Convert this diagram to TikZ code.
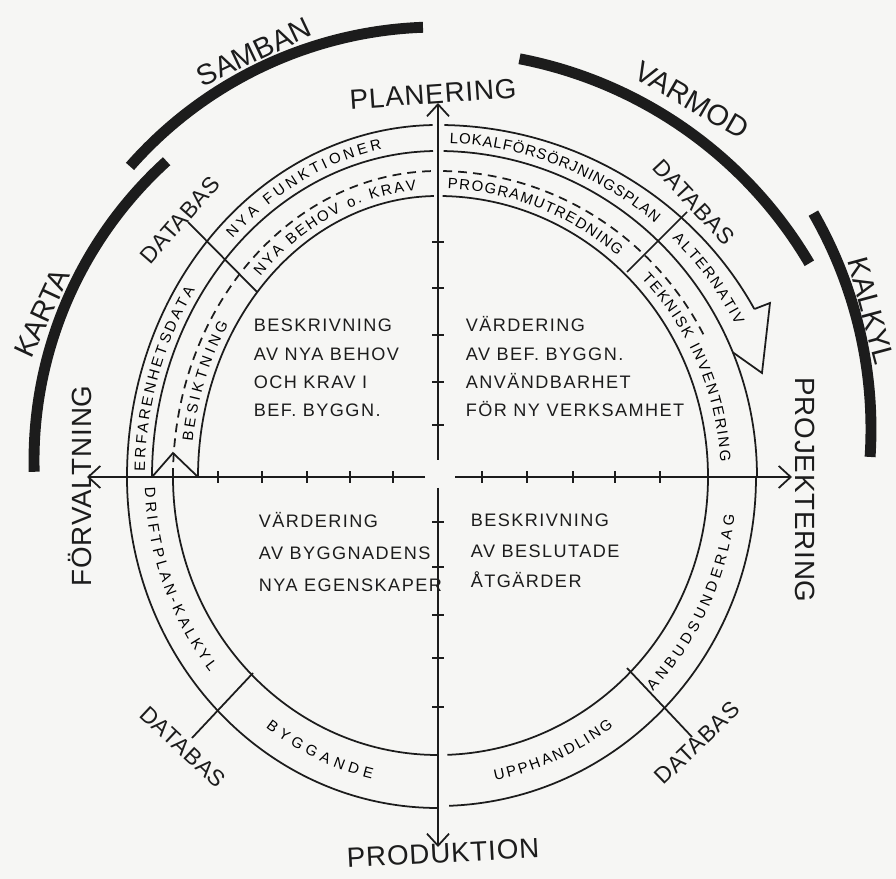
\documentclass[tikz,border=0pt]{standalone}
\usepackage{fontspec}
\setmainfont{Liberation Sans}
\newfontfamily\quadfont[LetterSpace=8]{Liberation Sans}
\newfontfamily\wayfont[LetterSpace=3]{Liberation Sans}
\usetikzlibrary{arrows.meta, decorations.text}
\definecolor{ink}{HTML}{1C1C1C}
\definecolor{paper}{HTML}{F6F6F4}
\tikzset{
  every picture/.style={line width=1pt, color=ink},
  band/.style={line width=1pt},
  dashband/.style={line width=1pt, dash pattern=on 5pt off 3.5pt},
  bigarc/.style={line width=6.2pt},
  axisline/.style={line width=1pt, -{Straight Barb[length=2.4mm, width=4.4mm]}},
  tickmark/.style={line width=1pt},
  quad/.style={font=\quadfont\fontsize{10.3}{12}\selectfont, inner sep=0pt, anchor=base west},
  way/.style={font=\wayfont\fontsize{15.8}{18}\selectfont, inner sep=0pt},
  ring/.style={font=\fontsize{16.5}{18}\selectfont, inner sep=0pt},
  dblabel/.style={font=\wayfont\fontsize{13}{15}\selectfont, inner sep=0pt},
}
% text set along an elliptic arc: rx, ry, start angle, end angle, text
\newcommand{\bandtext}[5]{%
  \path[decorate, decoration={text along path, text align={fit to path}, raise=-3pt,
      text={|\fontsize{8.5}{10}\selectfont|#5}}]
    ({#1*cos(#3)},{#2*sin(#3)}) arc[start angle=#3, end angle=#4, x radius=#1, y radius=#2];
}

\begin{document}
\begin{tikzpicture}[x=0.2mm, y=0.2mm]
  \useasboundingbox[fill=paper] (-438,-402) rectangle (458,477);

  % upper rings, left and right quarter
  \foreach \rx/\ry/\s in {311/352/band, 286/326/band, 265/306/dashband, 240/281/band}
    \draw[\s] (-\rx,0) arc[start angle=180, end angle=91, x radius=\rx, y radius=\ry];
  \foreach \rx/\ry/\e/\s in {360/352/28.5/band, 319/326/0/band, 300/306/27.6/dashband, 270/281/0/band}
    \draw[\s] ({\rx*cos(89)},{\ry*sin(89)}) arc[start angle=89, end angle=\e, x radius=\rx, y radius=\ry];
  % lower rings
  \foreach \rx/\ry in {311/331, 265/278}
    \draw[band] (-\rx,0) arc[start angle=180, end angle=270, x radius=\rx, y radius=\ry];
  \foreach \rx/\ry in {318/329, 270/278}
    \draw[band] ({\rx*cos(272)},{\ry*sin(272)}) arc[start angle=272, end angle=360, x radius=\rx, y radius=\ry];

  % arrow head of the outer ring, small peak at the left
  \draw[band, line join=miter] ({360*cos(28.5)},{352*sin(28.5)}) -- (332,174) -- (324,104)
    -- ({319*cos(22.5)},{326*sin(22.5)});
  \draw[band] (-286,0) -- (-265,24) -- (-240,0);

  % database dividers
  \draw[band] (-250,255) -- (-181,185);
  \draw[band] (249,265) -- (189,205);
  \draw[band] (-246,-261) -- (-185,-196);
  \draw[band] (254,-260) -- (189,-191);

  % axes
  \draw[axisline] (-13,0) -- (-351,0);
  \draw[axisline] (17,0) -- (354,0);
  \draw[axisline] (0,17) -- (0,374);
  \draw[axisline] (0,-11) -- (0,-370);
  \foreach \x in {-220,-176,-131,-88,-45,44,89,135,177,222}
    \draw[tickmark] (\x,-6) -- (\x,6);
  \foreach \y in {52,95,142,189,235,-45,-90,-138,-181,-230}
    \draw[tickmark] (-6,\y) -- (6,\y);

  % thick outer arcs
  \draw[bigarc] ([shift={(138.7:410)}]0,40) arc[start angle=138.7, end angle=92.1, radius=410];
  \draw[bigarc] ([shift={(132.2:404)}]0,16.5) arc[start angle=132.2, end angle=181.6, radius=404];
  \draw[bigarc] ([shift={(79.1:431)}]0,-5) arc[start angle=79.1, end angle=30.5, radius=431];
  \draw[bigarc] ([shift={(29.9:433)}]0,48) arc[start angle=29.9, end angle=-3.7, radius=433];
  \node[ring, rotate=25.3] (samban) at (-184,425) {SAMBAN};
  \node[ring, rotate=65] (karta) at (-396,164) {KARTA};
  \node[ring, rotate=-30] (varmod) at (254,377) {VARMOD};
  \node[ring, rotate=-75] (kalkyl) at (433,166) {KALKYL};

  % texts in the rings
  \bandtext{298.5}{339}{134.5}{101}{NYA FUNKTIONER}
  \bandtext{298.5}{339}{179}{146}{ERFARENHETSDATA}
  \bandtext{252.5}{293.5}{136}{95}{NYA BEHOV o. KRAV}
  \bandtext{252.5}{293.5}{173}{148}{BESIKTNING}
  \bandtext{339.5}{339}{88}{49.5}{LOKALFÖRSÖRJNINGSPLAN}
  \bandtext{339.5}{339}{45.5}{27}{ALTERNATIV}
  \bandtext{285}{293.5}{88}{50}{PROGRAMUTREDNING}
  \bandtext{288}{291}{44}{3}{TEKNISK INVENTERING}
  \bandtext{288}{304.5}{182}{219}{DRIFTPLAN-KALKYL}
  \bandtext{288}{304.5}{234}{257}{BYGGANDE}
  \bandtext{293.5}{303.5}{281}{306}{UPPHANDLING}
  \bandtext{293.5}{303.5}{316}{353}{ANBUDSUNDERLAG}

  \node[dblabel, rotate=49] (dbnw) at (-258,257) {DATABAS};
  \node[dblabel, rotate=-47] (dbne) at (256,275) {DATABAS};
  \node[dblabel, rotate=-43] (dbsw) at (-255,-270) {DATABAS};
  \node[dblabel, rotate=44] (dbse) at (259,-266) {DATABAS};

  % quadrant texts
  \foreach \ln [count=\i] in {BESKRIVNING,AV NYA BEHOV,OCH KRAV I,BEF. BYGGN.}
    \node[quad] (nw\i) at (-185,{145-28.3*(\i-1)}) {\ln};
  \foreach \ln [count=\i] in {VÄRDERING,AV BEF. BYGGN.,ANVÄNDBARHET,FÖR NY VERKSAMHET}
    \node[quad] (ne\i) at (27,{145-28.3*(\i-1)}) {\ln};
  \foreach \ln [count=\i] in {VÄRDERING,AV BYGGNADENS,NYA EGENSKAPER}
    \node[quad] (sw\i) at (-180,{-51-32*(\i-1)}) {\ln};
  \foreach \ln [count=\i] in {BESKRIVNING,AV BESLUTADE,ÅTGÄRDER}
    \node[quad] (se\i) at (32,{-50-30.5*(\i-1)}) {\ln};

  % phase names
  \node[way, rotate=4] (plan) at (-5,383) {PLANERING};
  \node[way, rotate=3] (prod) at (5,-376) {PRODUKTION};
  \node[way, rotate=90] (forv) at (-358,-9) {FÖRVALTNING};
  \node[way, rotate=-90] (proj) at (367,-13) {PROJEKTERING};
\end{tikzpicture}
\end{document}
